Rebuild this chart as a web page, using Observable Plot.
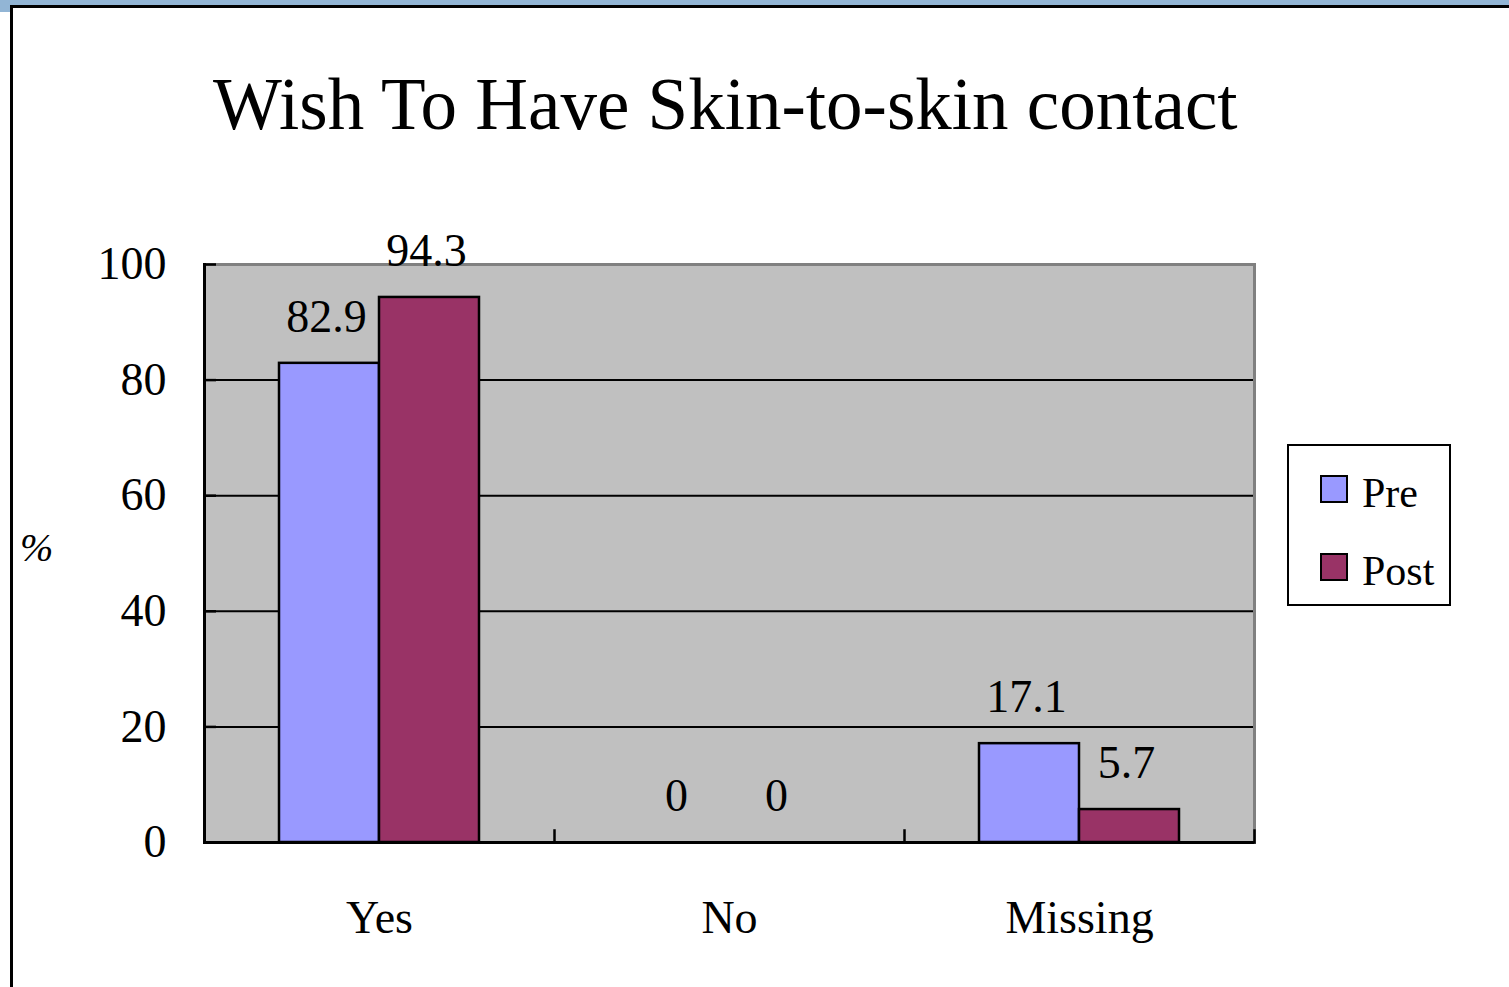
<!DOCTYPE html>
<html>
<head>
<meta charset="utf-8">
<script src="https://cdn.jsdelivr.net/npm/d3@7"></script>
<script src="https://cdn.jsdelivr.net/npm/@observablehq/plot@0.6"></script>
<style>
  body { margin: 0; background: #fff; overflow: hidden; }
  #page { position: relative; width: 1509px; height: 987px; overflow: hidden; background: #fff;
          font-family: "Liberation Serif", "Times New Roman", serif; color: #000; }
  #band { position: absolute; left: 0; top: 0; width: 1509px; height: 6px; background: #92B5D5; }
  #corner { position: absolute; left: 0; top: 0; width: 10px; height: 12px; background: #92B5D5; }
  #sheet { position: absolute; left: 10px; top: 5px; width: 1530px; height: 1010px; background: #fff;
           border-left: 3px solid #000; border-top: 3px solid #000; }
  #title { position: absolute; left: 213px; top: 68px; font-size: 73px; line-height: 74px; white-space: nowrap; }
  #ylabel { position: absolute; left: 20px; top: 528px; font-size: 40px; line-height: 40px; font-style: italic; }
  #chart { position: absolute; left: 0; top: 180px; }
  #legend { position: absolute; left: 1287px; top: 444px; width: 160px; height: 158px; border: 2px solid #000; background: #fff; }
  .item { position: absolute; left: 0; font-size: 42px; line-height: 42px; white-space: nowrap; }
  .sw { position: absolute; width: 24px; height: 24px; border: 2px solid #000; }
  .lab { position: absolute; left: 73px; }
</style>
</head>
<body>
<div id="page">
  <div id="band"></div>
  <div id="corner"></div>
  <div id="sheet"></div>
  <div id="title">Wish To Have Skin-to-skin contact</div>
  <div id="ylabel">%</div>
  <div id="chart"></div>
  <div id="legend"></div>
</div>
<script>
const categories = ["Yes", "No", "Missing"];
const seriesNames = ["Pre", "Post"];
const preValues = [82.9, 0, 17.1];
const postValues = [94.3, 0, 5.7];
const yTicks = [0, 20, 40, 60, 80, 100];
const gridTicks = [20, 40, 60, 80];
const seriesColors = ["#9999FF", "#993366"];

const rows = [];
categories.forEach((c, i) => {
  rows.push({category: c, series: "Pre", value: preValues[i]});
  rows.push({category: c, series: "Post", value: postValues[i]});
});

const chart = Plot.plot({
  width: 1509,
  height: 807,
  marginLeft: 203,
  marginRight: 255,
  marginTop: 84,
  marginBottom: 145,
  style: {fontFamily: "'Liberation Serif', 'Times New Roman', serif", fontSize: "46px", color: "#000", background: "transparent", overflow: "visible"},
  fx: {domain: categories, padding: 0, label: null},
  x: {domain: seriesNames, paddingInner: 0, paddingOuter: 0.745, axis: null},
  y: {domain: [0, 100], label: null},
  color: {domain: seriesNames, range: seriesColors},
  marks: [
    Plot.frame({fill: "#C0C0C0", stroke: "#C0C0C0", strokeWidth: 1.5}),
    Plot.ruleY(gridTicks, {stroke: "#000", strokeWidth: 2}),
    Plot.ruleY([100], {stroke: "#808080", strokeWidth: 3}),
    Plot.frame({anchor: "right", stroke: "#808080", strokeWidth: 3, fx: ["Missing"]}),
    Plot.barY(rows, {fx: "category", x: "series", y: "value", fill: "series", stroke: "#000", strokeWidth: 2.5}),
    Plot.text(rows, {fx: "category", x: "series", y: "value", text: d => String(d.value), dy: -46, dx: -3, fontSize: 46, fill: "#000"}),
    Plot.ruleY([0], {stroke: "#000", strokeWidth: 3}),
    Plot.frame({anchor: "left", stroke: "#000", strokeWidth: 3, fx: ["Yes"]}),
    Plot.frame({anchor: "left", stroke: "#000", strokeWidth: 2.5, insetTop: 566}),
    Plot.frame({anchor: "right", stroke: "#000", strokeWidth: 2.5, insetTop: 566, fx: ["Missing"]}),
    Plot.axisY({ticks: yTicks, tickSize: 0, tickPadding: 38, fontSize: 46, label: null}),
    Plot.axisY({ticks: yTicks, tickSize: 12, dx: 12, strokeWidth: 2.5, tickFormat: () => "", label: null}),
    Plot.axisFx({anchor: "bottom", tickSize: 0, tickPadding: 58, fontSize: 46, label: null})
  ]
});
document.getElementById("chart").appendChild(chart);

// legend built from the same series/colour arrays
const legend = document.getElementById("legend");
seriesNames.forEach((s, i) => {
  const item = document.createElement("div");
  item.className = "item";
  item.style.top = (i === 0 ? 26 : 104) + "px";
  const sw = document.createElement("div");
  sw.className = "sw";
  sw.style.left = "31px";
  sw.style.top = "3px";
  sw.style.background = seriesColors[i];
  const lab = document.createElement("span");
  lab.className = "lab";
  lab.textContent = s;
  item.appendChild(sw);
  item.appendChild(lab);
  legend.appendChild(item);
});
</script>
</body>
</html>
